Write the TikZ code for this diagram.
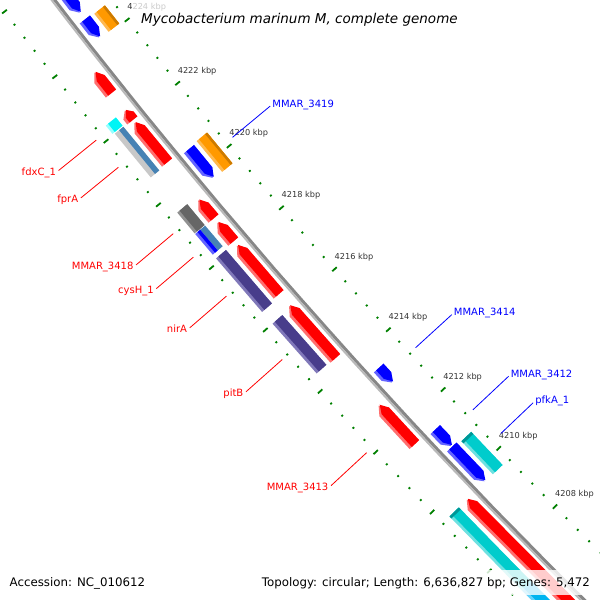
\documentclass[tikz,border=0pt]{standalone}
\usepackage{fontspec}
\setmainfont{DejaVu Sans}
\usetikzlibrary{calc}
\definecolor{gred}{RGB}{255,0,0}
\definecolor{gredl}{RGB}{255,110,110}
\definecolor{gblue}{RGB}{0,0,255}
\definecolor{gbluel}{RGB}{100,100,255}
\definecolor{gorange}{RGB}{255,153,0}
\definecolor{gorangel}{RGB}{255,185,80}
\definecolor{gorangedk}{RGB}{204,122,0}
\definecolor{gcyan}{RGB}{0,204,204}
\definecolor{gcyanl}{RGB}{110,225,225}
\definecolor{gcyandk}{RGB}{0,150,150}
\definecolor{gaqua}{RGB}{0,245,245}
\definecolor{gaqual}{RGB}{150,255,255}
\definecolor{gsteel}{RGB}{70,130,180}
\definecolor{glgray}{RGB}{200,200,200}
\definecolor{gdgray}{RGB}{102,102,102}
\definecolor{gdgrayl}{RGB}{145,145,145}
\definecolor{gpurple}{RGB}{72,61,139}
\definecolor{gpurplel}{RGB}{128,120,185}
\definecolor{gsky}{RGB}{0,180,240}
\definecolor{gskyl}{RGB}{100,210,250}
\definecolor{bbdark}{RGB}{135,135,135}
\definecolor{bblight}{RGB}{185,185,185}
\definecolor{tickgreen}{RGB}{0,128,0}
\definecolor{ticktext}{RGB}{51,51,51}
% map coordinate system: k = position in kbp, d = radial offset from backbone (positive = lower left)
\pgfkeys{/gmap/k/.store in=\gmk,/gmap/d/.store in=\gmd}
\tikzdeclarecoordinatesystem{gm}{%
  \pgfkeys{/gmap/.cd,#1}%
  \pgfmathsetmacro\gmang{135.55+(\gmk-4208)*0.3925}%
  \pgfmathsetmacro\gmrad{5962+(\gmd)}%
  \pgfpointadd{\pgfpointxy{4778}{-3636}}{\pgfpointpolarxy{\gmang}{\gmrad}}%
}
\newcommand\gquad[5]{\fill[#5] (gm cs:k={#1},d={#3}) -- (gm cs:k={#2},d={#3}) -- (gm cs:k={#2},d={#4}) -- (gm cs:k={#1},d={#4}) -- cycle;}
\newcommand\gbox[6]{\gquad{#1}{#2}{#3}{#4}{#6}\gquad{#1}{#2}{#3}{#4-3}{#5}}
\newcommand\garrup[7]{%
  \fill[#6] (gm cs:k={#1},d={#3}) -- (gm cs:k={#2-#7},d={#3}) -- (gm cs:k={#2},d={(#3+#4)/2}) -- (gm cs:k={#2-#7},d={#4}) -- (gm cs:k={#1},d={#4}) -- cycle;
  \fill[#5] (gm cs:k={#1},d={#3}) -- (gm cs:k={#2-#7},d={#3}) -- (gm cs:k={#2},d={(#3+#4)/2-1.5}) -- (gm cs:k={#2-#7},d={#4-3}) -- (gm cs:k={#1},d={#4-3}) -- cycle;}
\newcommand\garrdn[7]{%
  \fill[#6] (gm cs:k={#2},d={#3}) -- (gm cs:k={#1+#7},d={#3}) -- (gm cs:k={#1},d={(#3+#4)/2}) -- (gm cs:k={#1+#7},d={#4}) -- (gm cs:k={#2},d={#4}) -- cycle;
  \fill[#5] (gm cs:k={#2},d={#3}) -- (gm cs:k={#1+#7},d={#3}) -- (gm cs:k={#1},d={(#3+#4)/2-1.5}) -- (gm cs:k={#1+#7},d={#4-3}) -- (gm cs:k={#2},d={#4-3}) -- cycle;}
\newcommand\ticklabel[1]{%
  \coordinate (tk#1) at (gm cs:k=#1,d=-46);
  \node[ticklab] (lb#1) at ($(tk#1)+(0,-10)$) {#1 kbp};}
\begin{document}
\begin{tikzpicture}[x=1pt,y=-1pt,
  majtick/.style={draw=tickgreen,line width=1.8pt},
  mintick/.style={draw=tickgreen,line width=1.8pt},
  ticklab/.style={text=ticktext,font=\fontsize{8.2}{10}\selectfont,inner sep=0pt,anchor=base west},
  inlab/.style={text=gred,font=\fontsize{10}{12}\selectfont,inner sep=0pt,anchor=base east},
  outlab/.style={text=gblue,font=\fontsize{10}{12}\selectfont,inner sep=0pt,anchor=base west},
  ilink/.style={draw=gred,line width=0.8pt},
  olink/.style={draw=gblue,line width=0.8pt}]
\useasboundingbox (0,0) rectangle (600,600);
\fill[white] (0,0) rectangle (600,600);
\clip (0,0) rectangle (600,600);
% backbone
\draw[bbdark,line width=3pt] plot[variable=\k,domain=4204:4228,samples=25]
  ({4778+5961*cos(135.55+(\k-4208)*0.3925)},{-3636+5961*sin(135.55+(\k-4208)*0.3925)});
\draw[bblight,line width=2pt] plot[variable=\k,domain=4204:4228,samples=25]
  ({4778+5963.5*cos(135.55+(\k-4208)*0.3925)},{-3636+5963.5*sin(135.55+(\k-4208)*0.3925)});
% tick tracks
\foreach \m in {4202,4204,...,4228}{
  \draw[majtick] (gm cs:k=\m,d=-49) -- (gm cs:k=\m,d=-43);
  \draw[majtick] (gm cs:k=\m,d=43) -- (gm cs:k=\m,d=49);
  \foreach \f in {0.4,0.8,1.2,1.6}{
    \draw[mintick] (gm cs:k={\m+\f},d=-47) -- (gm cs:k={\m+\f},d=-45);
    \draw[mintick] (gm cs:k={\m+\f},d=45) -- (gm cs:k={\m+\f},d=47);
  }
}
\ticklabel{4208}
\ticklabel{4210}
\ticklabel{4212}
\ticklabel{4214}
\ticklabel{4216}
\ticklabel{4218}
\ticklabel{4220}
\ticklabel{4222}
\ticklabel{4224}
% inner lane 1: red genes
\garrup{4222.83}{4223.48}{6}{19}{gred}{gredl}{0.2}
\garrup{4221.99}{4222.29}{6}{19}{gred}{gredl}{0.15}
\garrup{4220.66}{4221.91}{6}{19}{gred}{gredl}{0.2}
\garrup{4218.88}{4219.46}{6}{19}{gred}{gredl}{0.2}
\garrup{4218.14}{4218.74}{6}{19}{gred}{gredl}{0.2}
\garrup{4216.44}{4218.00}{6}{19}{gred}{gredl}{0.2}
\garrup{4214.35}{4216.05}{6}{19}{gred}{gredl}{0.2}
\garrup{4211.49}{4212.78}{6}{19}{gred}{gredl}{0.2}
\garrup{4205}{4209.63}{6}{19}{gred}{gredl}{0.2}
% inner lane 2
\gbox{4222.04}{4222.30}{23.5}{36.5}{gaqua}{gaqual}
\gquad{4220.63}{4222.01}{23.5}{34.5}{glgray}
\gquad{4220.63}{4222.01}{23.5}{29}{gsteel}
\gbox{4218.90}{4219.56}{23.5}{36.5}{gdgray}{gdgrayl}
\gquad{4218.22}{4218.88}{23.5}{30}{gsteel}
\gbox{4218.22}{4218.88}{30}{36.5}{gblue}{gbluel}
\gbox{4216.38}{4218.10}{23.5}{36.5}{gpurple}{gpurplel}
\gbox{4214.38}{4216.00}{23.5}{36.5}{gpurple}{gpurplel}
\gbox{4207.1}{4209.63}{23.5}{36.5}{gcyan}{gcyanl}
\gquad{4209.56}{4209.63}{23.5}{36.5}{gcyandk}
\gbox{4205}{4207.1}{23.5}{36.5}{gsky}{gskyl}
% outer lane 1: blue genes
\garrdn{4224.86}{4226.5}{-19.5}{-6.5}{gblue}{gbluel}{0.2}
\garrdn{4224.09}{4224.65}{-19.5}{-6.5}{gblue}{gbluel}{0.2}
\garrdn{4219.66}{4220.57}{-19.5}{-6.5}{gblue}{gbluel}{0.2}
\garrdn{4212.98}{4213.46}{-19.5}{-6.5}{gblue}{gbluel}{0.2}
\garrdn{4210.85}{4211.41}{-19.5}{-6.5}{gblue}{gbluel}{0.2}
\garrdn{4209.66}{4210.82}{-19.5}{-6.5}{gblue}{gbluel}{0.2}
% outer lane 2
\gbox{4224.05}{4224.62}{-37.5}{-24}{gorange}{gorangel}
\gquad{4224.05}{4224.62}{-37.5}{-35}{gorangedk}
\gbox{4219.62}{4220.60}{-37.5}{-24}{gorange}{gorangel}
\gquad{4219.62}{4220.60}{-37.5}{-35}{gorangedk}
\gbox{4209.64}{4210.76}{-37.5}{-24}{gcyan}{gcyanl}
\gquad{4210.69}{4210.76}{-37.5}{-24}{gcyandk}
% inner labels
\coordinate (ia1) at (gm cs:k=4222.17,d=53); \coordinate (ib1) at (gm cs:k=4222.17,d=101.5);
\coordinate (ia2) at (gm cs:k=4221.32,d=53); \coordinate (ib2) at (gm cs:k=4221.32,d=101.5);
\coordinate (ia3) at (gm cs:k=4219.23,d=53); \coordinate (ib3) at (gm cs:k=4219.23,d=101.5);
\coordinate (ia4) at (gm cs:k=4218.48,d=53); \coordinate (ib4) at (gm cs:k=4218.48,d=101.5);
\coordinate (ia5) at (gm cs:k=4217.24,d=53); \coordinate (ib5) at (gm cs:k=4217.24,d=101.5);
\coordinate (ia6) at (gm cs:k=4215.19,d=53); \coordinate (ib6) at (gm cs:k=4215.19,d=101.5);
\coordinate (ia7) at (gm cs:k=4212.14,d=53); \coordinate (ib7) at (gm cs:k=4212.14,d=101.5);
\draw[ilink] (ia1) -- (ib1);
\draw[ilink] (ia2) -- (ib2);
\draw[ilink] (ia3) -- (ib3);
\draw[ilink] (ia4) -- (ib4);
\draw[ilink] (ia5) -- (ib5);
\draw[ilink] (ia6) -- (ib6);
\draw[ilink] (ia7) -- (ib7);
\node[inlab] (fdx) at ($(ib1)+(-2.5,5)$) {fdxC\_1};
\node[inlab] (fpr) at ($(ib2)+(-2.5,5)$) {fprA};
\node[inlab] (m3418) at ($(ib3)+(-2.5,5)$) {MMAR\_3418};
\node[inlab] (cys) at ($(ib4)+(-2.5,5)$) {cysH\_1};
\node[inlab] (nir) at ($(ib5)+(-2.5,5)$) {nirA};
\node[inlab] (pit) at ($(ib6)+(-2.5,5)$) {pitB};
\node[inlab] (m3413) at ($(ib7)+(-2.5,5)$) {MMAR\_3413};
% outer labels
\coordinate (oa1) at (gm cs:k=4220.11,d=-54); \coordinate (ob1) at (gm cs:k=4220.11,d=-103);
\coordinate (oa2) at (gm cs:k=4213.22,d=-54); \coordinate (ob2) at (gm cs:k=4213.22,d=-103);
\coordinate (oa3) at (gm cs:k=4211.13,d=-54); \coordinate (ob3) at (gm cs:k=4211.13,d=-103);
\coordinate (oa4) at (gm cs:k=4210.23,d=-58); \coordinate (ob4) at (gm cs:k=4210.23,d=-102.5);
\draw[olink] (oa1) -- (ob1);
\draw[olink] (oa2) -- (ob2);
\draw[olink] (oa3) -- (ob3);
\draw[olink] (oa4) -- (ob4);
\node[outlab] (m3419) at ($(ob1)+(2,1)$) {MMAR\_3419};
\node[outlab] (m3414) at ($(ob2)+(2,1)$) {MMAR\_3414};
\node[outlab] (m3412) at ($(ob3)+(2,1)$) {MMAR\_3412};
\node[outlab] (pfk) at ($(ob4)+(2,1)$) {pfkA\_1};
% translucent boxes and captions
\fill[white,opacity=0.75] (133,0) rectangle (462,29);
\fill[white,opacity=0.8] (256,570) rectangle (600,595);
\node[anchor=base west,inner sep=0pt,font=\fontsize{13.5}{16}\selectfont\itshape] (title) at (141,23) {Mycobacterium marinum M, complete genome};
\node[anchor=base west,inner sep=0pt,font=\fontsize{11.8}{14}\selectfont] (acc) at (9.5,586.5) {Accession: NC\_010612};
\node[anchor=base east,inner sep=0pt,font=\fontsize{11.8}{14}\selectfont] (topo) at (590,586.5) {Topology: circular; Length: 6,636,827 bp; Genes: 5,472};
\end{tikzpicture}
\end{document}
